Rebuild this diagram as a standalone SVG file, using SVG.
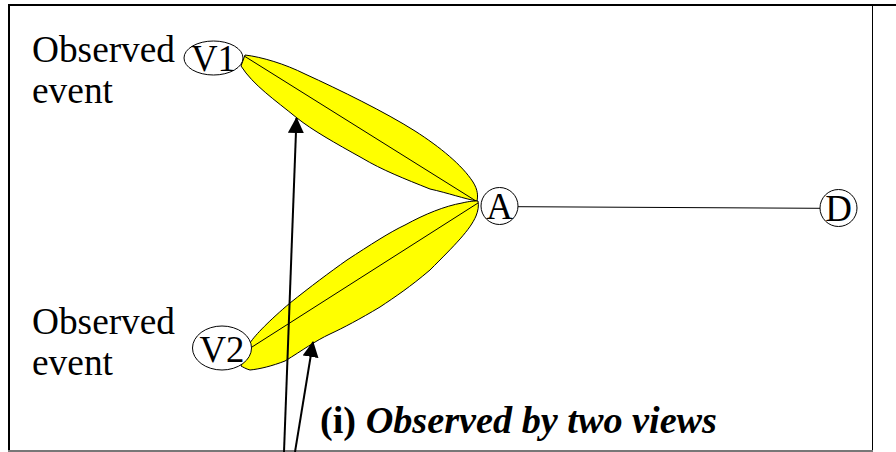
<svg xmlns="http://www.w3.org/2000/svg" width="896" height="452" viewBox="0 0 896 452">
<style>
.t{font-family:'Liberation Serif','Tinos','Times New Roman','DejaVu Serif',serif;font-size:37px;fill:#000}
.n{fill:#fff;stroke:#000;stroke-width:1}
.leaf{fill:#ffff00;stroke:#000;stroke-width:1;stroke-linejoin:round}
.ln{stroke:#000;stroke-width:1;fill:none}
.arr{stroke:#000;stroke-width:2;fill:none}
</style>
<defs>
<marker id="ah" viewBox="0 0 16 16" refX="15" refY="8" markerWidth="16" markerHeight="16" markerUnits="userSpaceOnUse" orient="auto">
<path d="M0,0 L16,8 L0,16 Z" fill="#000"/>
</marker>
</defs>
<rect width="896" height="452" fill="#fff"/>
<g id="frame">
<line x1="8" y1="5" x2="896" y2="5" stroke="#000" stroke-width="2"/>
<line x1="9" y1="4" x2="9" y2="451" stroke="#000" stroke-width="2"/>
<line x1="872.5" y1="5" x2="872.5" y2="450" stroke="#000" stroke-width="1"/>
<line x1="8" y1="451" x2="873" y2="451" stroke="#777" stroke-width="2"/>
</g>
<g id="leaf1">
<path class="leaf" d="M245,55 C262,57 285,64 305,74 C340,90 385,112 415,131 C440,147 462,165 473,182 C478,190 478,196 477,201 C465,199 448,193 430,189 C405,179 382,170 362,158 C335,143 312,130 297,118 C275,100 253,85 241,66 Z"/>
<line class="ln" x1="245" y1="56.5" x2="476" y2="201"/>
</g>
<g id="leaf2">
<path class="leaf" d="M250,343 C255,335 270,320 290,303 C310,287 330,272 347,260 C370,245 390,232 405,225 C425,214 445,206 462,203 C470,201 475,201 478,201 C479,206 478,211 476,216 C470,230 455,245 430,270 C410,287 395,297 380,307 C360,319 343,328 330,334 C315,341 303,350 285,361 C272,366 260,369 250,370 C246,369 243,367 241,366 Z"/>
<line class="ln" x1="252" y1="347" x2="478" y2="203"/>
</g>
<g id="labels">
<text class="t" x="32" y="62" textLength="143" lengthAdjust="spacingAndGlyphs">Observed</text>
<text class="t" x="32" y="103" textLength="81" lengthAdjust="spacingAndGlyphs">event</text>
<text class="t" x="32" y="334" textLength="143" lengthAdjust="spacingAndGlyphs">Observed</text>
<text class="t" x="32" y="375" textLength="81" lengthAdjust="spacingAndGlyphs">event</text>
</g>
<g id="connectors">
<line class="ln" x1="518" y1="206.7" x2="820" y2="208.3"/>
<line class="arr" x1="284" y1="452" x2="296.5" y2="118" marker-end="url(#ah)"/>
<line class="arr" x1="295" y1="452" x2="313" y2="342" marker-end="url(#ah)"/>
</g>
<g id="V1">
<ellipse class="n" cx="213.5" cy="58" rx="29.5" ry="17"/>
<text class="t" x="191" y="70.5" textLength="45" lengthAdjust="spacingAndGlyphs">V1</text>
</g>
<g id="V2">
<ellipse class="n" cx="222" cy="348" rx="29.5" ry="22"/>
<text class="t" x="199.5" y="361.5" textLength="45" lengthAdjust="spacingAndGlyphs">V2</text>
</g>
<g id="A">
<circle class="n" cx="499.5" cy="206" r="18.5"/>
<text class="t" x="499.5" y="219" text-anchor="middle">A</text>
</g>
<g id="D">
<circle class="n" cx="838.5" cy="208" r="18.5"/>
<text class="t" x="838.5" y="221" text-anchor="middle">D</text>
</g>
<g id="caption">
<text class="t" x="320" y="433" font-weight="bold" textLength="397" lengthAdjust="spacingAndGlyphs">(i) <tspan font-style="italic">Observed by two views</tspan></text>
</g>
</svg>
